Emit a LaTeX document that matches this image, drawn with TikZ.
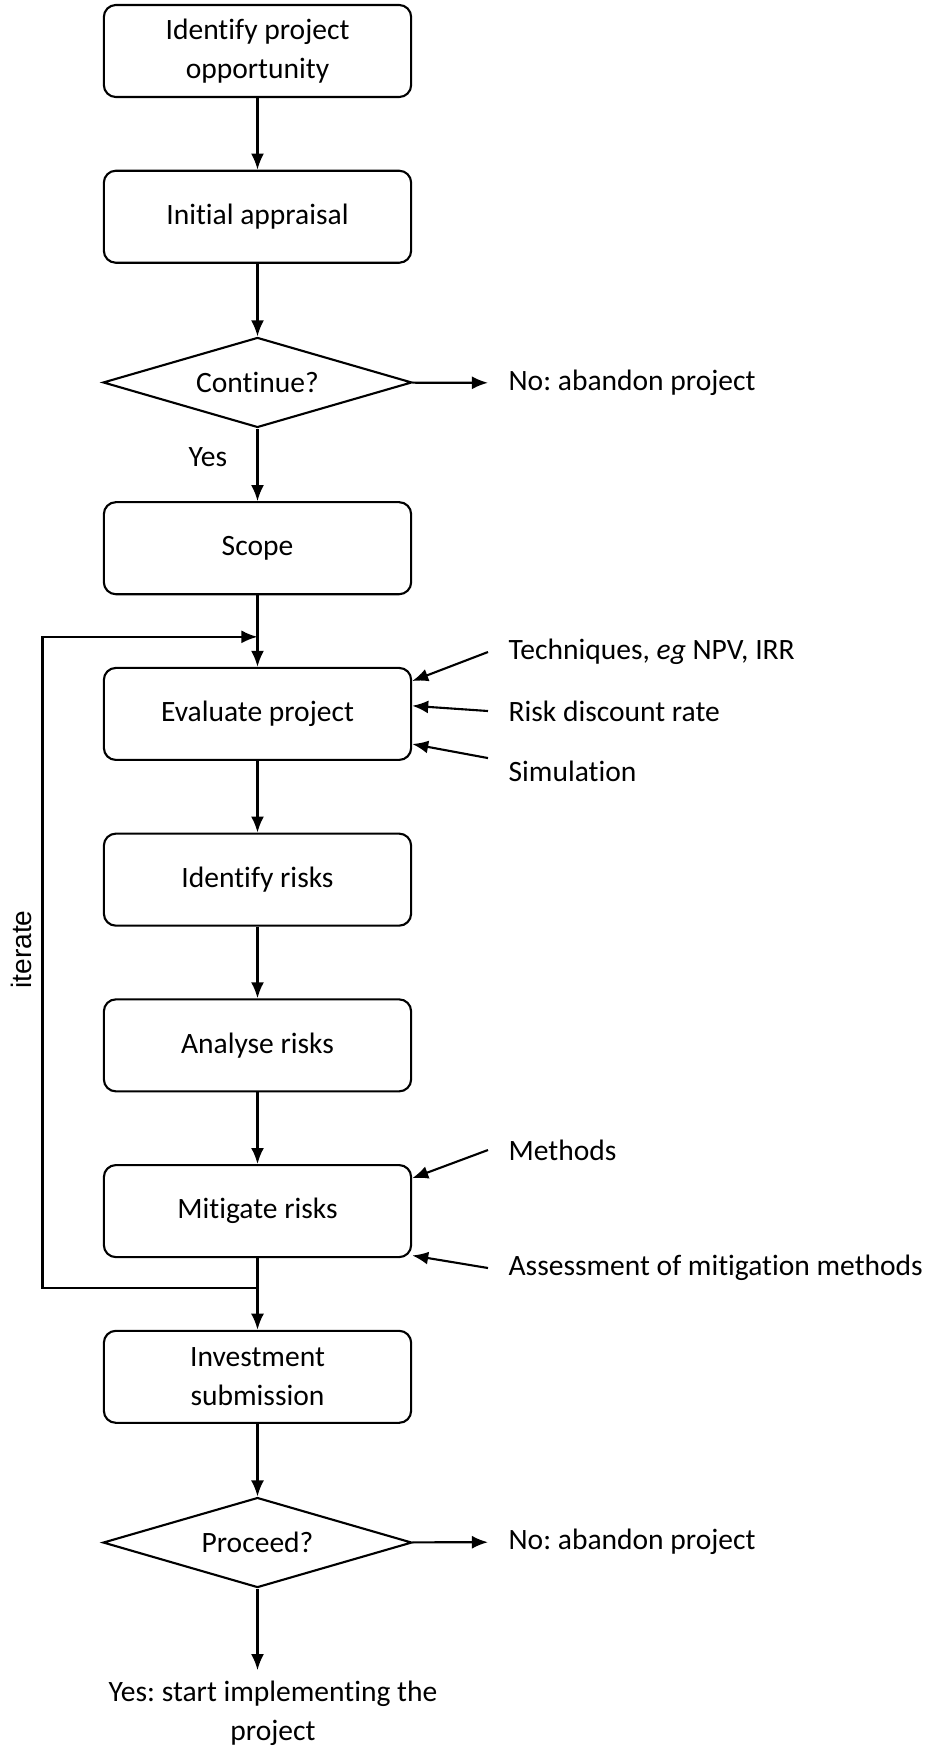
\documentclass[tikz,border=0pt]{standalone}
\usepackage{fontspec}
\setmainfont{Carlito}[Ligatures={NoCommon,NoRequired,NoContextual}]
\newfontfamily\iterfont{Liberation Sans}
\usetikzlibrary{shapes.geometric,arrows.meta,positioning}
\frenchspacing

\begin{document}
\begin{tikzpicture}[x=0.0125cm, y=-0.0125cm, node distance=2.071cm, font=\fontsize{10.5pt}{14pt}\selectfont, line width=0.75pt]
    \tikzstyle{process} = [draw, rectangle, rounded corners=1.5mm, minimum width=3.84cm, minimum height=1.15cm, align=center]
    \tikzstyle{decision} = [draw, diamond, aspect=3.4, minimum width=3.86cm, minimum height=1.125cm, inner sep=0pt]
    \tikzstyle{sidenote} = [anchor=west, outer xsep=4pt]
    \tikzstyle{conn} = [-{Latex[length=5.7pt,width=4.6pt]}]

    \useasboundingbox (0,0) rectangle (927,1748);

    % main column
    \node[process] (opp) at (257.5,51) {Identify project\\opportunity};
    \node[process, below of=opp] (appraisal) {Initial appraisal};
    \node[decision, below of=appraisal] (cont) {Continue?};
    \node[process, below of=cont] (scope) {Scope};
    \node[process, below of=scope] (eval) {Evaluate project};
    \node[process, below of=eval] (idrisk) {Identify risks};
    \node[process, below of=idrisk] (anrisk) {Analyse risks};
    \node[process, below of=anrisk] (mitig) {Mitigate risks};
    \node[process, below of=mitig] (invest) {Investment\\submission};
    \node[decision, below of=invest] (proceed) {Proceed?};
    \node[align=center] (yesgo) at (273,1713) {Yes: start implementing the\\project};

    % side notes
    \node[sidenote] (no1) at (488,383) {No: abandon project};
    \node[sidenote] (tech) at (488,652) {Techniques, \textit{eg} NPV, IRR};
    \node[sidenote] (rate) at (488,711) {Risk discount rate};
    \node[sidenote] (sim) at (488,771) {Simulation};
    \node[sidenote] (meth) at (488,1150) {Methods};
    \node[sidenote] (assess) at (488,1268) {Assessment of mitigation methods};
    \node[sidenote] (no2) at (488,1542) {No: abandon project};

    % loop points
    \coordinate[above=0.375cm of eval] (loopin);
    \coordinate[below=0.375cm of mitig] (loopout);

    \draw[conn] (opp) -- (appraisal);
    \draw[conn] (appraisal) -- (cont);
    \draw[conn] (cont) -- node[left=0.25cm, pos=0.4] {Yes} (scope);
    \draw[conn] (cont) -- (no1);
    \draw[conn] (scope) -- (eval);
    \draw[conn] (eval) -- (idrisk);
    \draw[conn] (idrisk) -- (anrisk);
    \draw[conn] (anrisk) -- (mitig);
    \draw[conn] (mitig) -- (invest);
    \draw[conn] (invest) -- (proceed);
    \draw[conn] (proceed) -- (no2);
    \draw[conn] (proceed) -- (proceed |- yesgo.north);

    \draw[conn] (tech.west) -- (eval.12);
    \draw[conn] (rate.west) -- (eval.3);
    \draw[conn] ([yshift=4.6pt]sim.west) -- (eval.349);
    \draw[conn] (meth.west) -- (mitig.12);
    \draw[conn] (assess.west) -- (mitig.344);

    \draw[conn] (loopout) -- ++(-215,0) |- node[pos=0.26, above, rotate=90, font=\iterfont\fontsize{10pt}{12pt}\selectfont] {iterate} (loopin);
\end{tikzpicture}
\end{document}
